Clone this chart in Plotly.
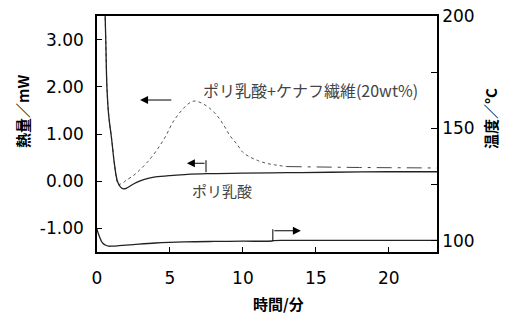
import plotly.graph_objects as go

# Heat flow, polylactic acid (solid)
pla_t = [0.55, 0.6, 0.68, 0.8, 1.0, 1.2, 1.4, 1.6, 1.8, 2.0, 2.5, 3.0, 3.5, 4.0, 5.0, 6.0, 7.5, 10, 13, 16, 20, 23.3]
pla_q = [3.6, 3.0, 2.0, 1.4, 0.9, 0.35, 0.0, -0.12, -0.16, -0.15, -0.06, 0.01, 0.06, 0.09, 0.12, 0.14, 0.16, 0.17, 0.18, 0.19, 0.2, 0.2]

# Heat flow, PLA + kenaf fibre 20wt% (dotted part)
kenaf_t = [0.55, 0.6, 0.68, 0.8, 1.0, 1.2, 1.35, 1.45, 1.6, 1.8, 2.0, 2.5, 2.9, 3.5, 4.1, 4.7, 5.2, 5.8, 6.3, 6.7, 7.2, 7.7, 8.2, 8.7, 9.1, 9.6, 10.0, 10.5, 11.0, 11.6, 12.3, 13.0]
kenaf_q = [3.6, 3.0, 2.0, 1.4, 0.9, 0.35, 0.02, -0.07, -0.06, -0.03, 0.02, 0.12, 0.23, 0.42, 0.66, 0.95, 1.25, 1.5, 1.65, 1.70, 1.65, 1.55, 1.40, 1.18, 0.97, 0.78, 0.61, 0.51, 0.44, 0.38, 0.34, 0.31]
# tail (dash-dot part)
kenaf_tail_t = [13.0, 15.0, 18.0, 23.3]
kenaf_tail_q = [0.31, 0.30, 0.29, 0.28]

# Temperature (right axis)
temp_t = [0, 0.1, 0.2, 0.3, 0.4, 0.6, 0.8, 1.0, 1.5, 2.5, 4, 6, 8, 10, 12, 12.1, 13, 16, 23.3]
temp_c = [105.2, 103.0, 101.3, 99.8, 98.9, 98.0, 97.6, 97.6, 97.8, 98.3, 99.0, 99.5, 99.7, 99.8, 99.9, 100.1, 100.2, 100.2, 100.2]

x_ticks = [0, 5, 10, 15, 20]
y_ticks = [-1, 0, 1, 2, 3]
y_ticklabels = ["-1.00", "0.00", "1.00", "2.00", "3.00"]
y2_ticks = [100, 125, 150, 175, 200]
y2_ticklabels = ["100", "", "150", "", "200"]

FONT = "DejaVu Sans, Liberation Sans, sans-serif"
JP = "Noto Sans CJK JP, sans-serif"

L, R, T, B = 97, 71, 16, 68
W = 508 - L - R
H = 320 - T - B
def px(xp):
    return (xp - L) / W
def py(yp):
    return 1 - (yp - T) / H

fig = go.Figure()
fig.add_trace(go.Scatter(x=kenaf_t, y=kenaf_q, mode="lines",
                         line=dict(color="#555555", width=1, dash="dot", shape="spline"), showlegend=False))
fig.add_trace(go.Scatter(x=kenaf_tail_t, y=kenaf_tail_q, mode="lines",
                         line=dict(color="#444444", width=1, dash="longdashdot"), showlegend=False))
fig.add_trace(go.Scatter(x=pla_t, y=pla_q, mode="lines",
                         line=dict(color="#222222", width=1.3, shape="spline"), showlegend=False))
fig.add_trace(go.Scatter(x=temp_t, y=temp_c, mode="lines", yaxis="y2",
                         line=dict(color="#222222", width=1.3, shape="spline"), showlegend=False))

# bracket vertical lines
fig.add_shape(type="line", x0=7.47, x1=7.47, y0=0.445, y1=0.19, xref="x", yref="y",
              line=dict(color="black", width=1))
fig.add_shape(type="line", x0=12.05, x1=12.05, y0=-1.017, y1=-1.27, xref="x", yref="y",
              line=dict(color="black", width=1))

arrow = dict(showarrow=True, arrowhead=2, arrowsize=1.6, arrowwidth=1, arrowcolor="black",
             axref="x", ayref="y", xref="x", yref="y", text="")
fig.add_annotation(x=2.95, y=1.72, ax=5.2, ay=1.72, **arrow)
fig.add_annotation(x=6.16, y=0.38, ax=7.47, ay=0.38, **arrow)
fig.add_annotation(x=13.97, y=-1.05, ax=12.05, ay=-1.05, **arrow)

txt = dict(xref="paper", yref="paper", showarrow=False, xanchor="center", yanchor="middle")
fig.add_annotation(x=px(310), y=py(90), text="ポリ乳酸+ケナフ繊維(20wt%)",
                   font=dict(family=JP, size=16, color="#444444"), **txt)
fig.add_annotation(x=px(222), y=py(190), text="ポリ乳酸",
                   font=dict(family=JP, size=15, color="#444444"), **txt)

fig.add_annotation(x=px(22), y=py(112), text="<b>熱量／mW</b>", textangle=-90,
                   font=dict(family=JP, size=15, color="black"), **txt)
fig.add_annotation(x=px(491), y=py(119), text="<b>温度／°C</b>", textangle=-90,
                   font=dict(family=JP, size=15, color="black"), **txt)
fig.add_annotation(x=px(278), y=py(303), text="<b>時間/分</b>",
                   font=dict(family=JP, size=15, color="black"), **txt)

fig.update_layout(
    width=508, height=320,
    margin=dict(l=L, r=R, t=T, b=B, autoexpand=False),
    paper_bgcolor="white", plot_bgcolor="white",
    font=dict(family=FONT, size=17, color="black"),
    xaxis=dict(range=[0, 23.3], tickvals=x_ticks, ticks="inside", ticklen=5, tickcolor="black",
               showline=True, linecolor="black", linewidth=1.5, mirror=True, showgrid=False,
               zeroline=False, tickfont=dict(size=17), automargin=False, ticklabelstandoff=10),
    yaxis=dict(range=[-1.5, 3.5], tickvals=y_ticks, ticktext=y_ticklabels, ticks="inside",
               ticklen=5, tickcolor="black", showline=True, linecolor="black", linewidth=1.5,
               showgrid=False, zeroline=False, tickfont=dict(size=17), automargin=False,
               ticklabelstandoff=8),
    yaxis2=dict(range=[95, 200], tickvals=y2_ticks, ticktext=y2_ticklabels, ticks="inside",
                ticklen=6, tickcolor="black", overlaying="y", side="right", showline=True,
                linecolor="black", linewidth=1.5, showgrid=False, zeroline=False,
                tickfont=dict(size=17), automargin=False),
)

fig.write_html("out.html", config={"displayModeBar": False},
               post_script="document.body.style.margin='0';document.body.style.overflow='hidden';")
